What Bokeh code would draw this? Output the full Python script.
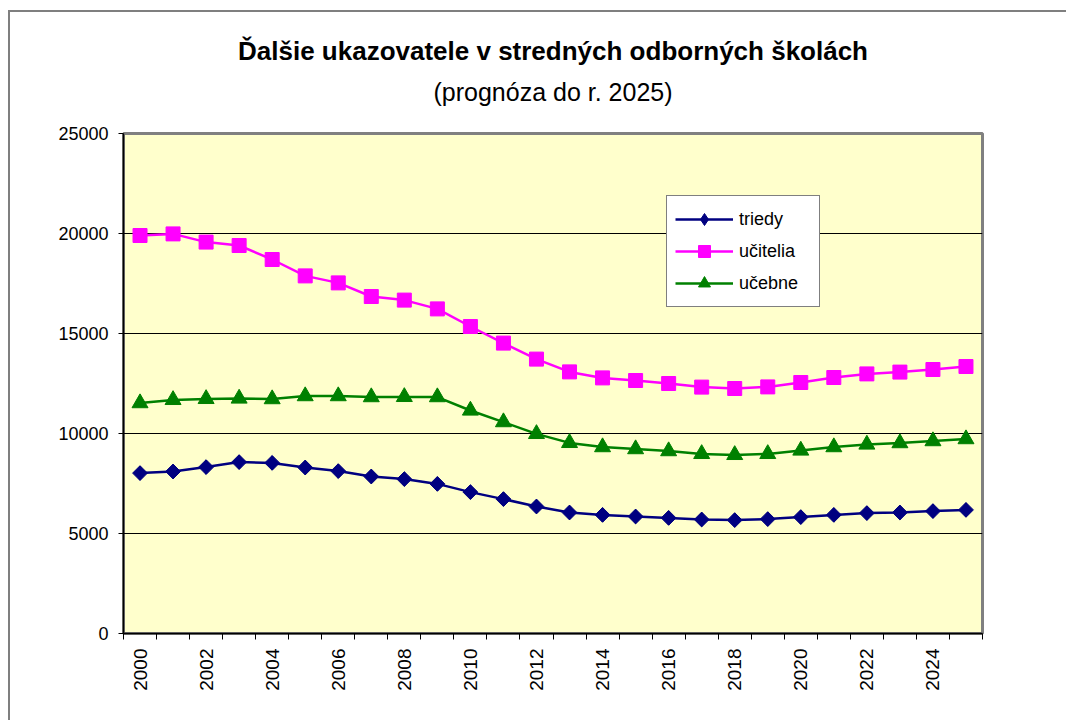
import math
from bokeh.plotting import figure
from bokeh.models import (Range1d, FixedTicker, Legend, LegendItem, Title,
                          ColumnDataSource)
from bokeh.embed import file_html
from bokeh.resources import INLINE

years = list(range(2000, 2026))
triedy = [8020, 8100, 8320, 8570, 8530, 8300, 8120, 7850, 7720, 7480, 7070, 6720, 6350,
          6050, 5930, 5850, 5780, 5700, 5670, 5720, 5820, 5930, 6020, 6050, 6120, 6180]
ucitelia = [19900, 19980, 19570, 19400, 18700, 17880, 17530, 16850, 16670, 16230, 15350,
            14520, 13720, 13080, 12780, 12650, 12500, 12320, 12250, 12330, 12550, 12800,
            12980, 13070, 13200, 13350]
ucebne = [11520, 11680, 11730, 11750, 11720, 11870, 11870, 11820, 11830, 11820, 11150,
          10570, 9980, 9530, 9320, 9220, 9120, 8980, 8930, 8980, 9150, 9320, 9450, 9520,
          9620, 9720]
series_names = ["triedy", "učitelia", "učebne"]
x_tick_labels = [str(y) for y in range(2000, 2026, 2)]
y_ticks = [0, 5000, 10000, 15000, 20000, 25000]
title_text = "Ďalšie ukazovatele v stredných odborných školách"
subtitle_text = "(prognóza do r. 2025)"

FONT = "Liberation Sans"

p = figure(width=1066, height=720, output_backend="svg", toolbar_location=None,
           x_range=Range1d(1999.5, 2025.5), y_range=Range1d(0, 25000),
           min_border_left=123, min_border_top=133, min_border_right=84,
           min_border_bottom=87)
p.background_fill_color = "#FFFFCC"
p.border_fill_alpha = 0
p.styles = {
    "background": ("linear-gradient(#7f7f7f, #7f7f7f) 8px 10px / 2px 100% no-repeat, "
                   "linear-gradient(#7f7f7f, #7f7f7f) 8px 10px / 100% 2px no-repeat, "
                   "white"),
}
p.outline_line_color = "#808080"
p.outline_line_width = 3

# titles (stacked outward from the frame)
p.add_layout(Title(text=" ", text_font_size="10px"), "above")
p.add_layout(Title(text=subtitle_text, align="center", text_font=FONT,
                   text_font_size="25px", text_font_style="normal",
                   text_color="black"), "above")
p.add_layout(Title(text=title_text, align="center", text_font=FONT,
                   text_font_size="26px", text_font_style="bold",
                   text_color="black"), "above")

# grid
p.xgrid.grid_line_color = None
p.ygrid.grid_line_color = "black"
p.ygrid.grid_line_width = 1
p.ygrid.ticker = FixedTicker(ticks=y_ticks)

# y axis
p.yaxis.ticker = FixedTicker(ticks=y_ticks)
p.yaxis.axis_line_color = "black"
p.yaxis.axis_line_width = 1.5
p.yaxis.major_tick_in = 0
p.yaxis.major_tick_out = 5
p.yaxis.major_tick_line_color = "black"
p.yaxis.minor_tick_line_color = None
p.yaxis.major_label_standoff = 10
p.yaxis.major_label_text_font = FONT
p.yaxis.major_label_text_font_size = "18px"
p.yaxis.major_label_text_color = "black"

# x axis
label_ticks = [int(t) for t in x_tick_labels]
p.xaxis.ticker = FixedTicker(ticks=label_ticks,
                             minor_ticks=[y - 0.5 for y in years] + [years[-1] + 0.5])
p.xaxis.major_label_overrides = {int(t): t for t in x_tick_labels}
p.xaxis.axis_line_color = "black"
p.xaxis.axis_line_width = 1.5
p.xaxis.major_tick_line_color = None
p.xaxis.major_tick_in = 0
p.xaxis.major_tick_out = 0
p.xaxis.minor_tick_line_color = "black"
p.xaxis.minor_tick_in = 0
p.xaxis.minor_tick_out = 6
p.xaxis.major_label_orientation = math.pi / 2
p.xaxis.major_label_standoff = 9
p.xaxis.major_label_text_font = FONT
p.xaxis.major_label_text_font_size = "19px"
p.xaxis.major_label_text_color = "black"

src = ColumnDataSource(dict(x=years, t=triedy, u=ucitelia, e=ucebne))

l1 = p.line("x", "t", source=src, line_color="#000080", line_width=2.5)
# diamond used for the legend (hidden under the rotated squares in the plot)
m1_leg = p.scatter("x", "t", source=src, marker="diamond", size=14,
                   fill_color="#000080", line_color="#000080")
m1 = p.scatter("x", "t", source=src, marker="square", angle=math.pi / 4, size=10.5,
               fill_color="#000080", line_color="#000080")
l2 = p.line("x", "u", source=src, line_color="#FF00FF", line_width=2.5)
m2 = p.scatter("x", "u", source=src, marker="square", size=14,
               fill_color="#FF00FF", line_color="#FF00FF")
l3 = p.line("x", "e", source=src, line_color="#008000", line_width=2.5)
m3 = p.scatter("x", "e", source=src, marker="triangle", size=16,
               fill_color="#008000", line_color="#008000")

legend = Legend(items=[LegendItem(label=series_names[0], renderers=[l1, m1_leg]),
                       LegendItem(label=series_names[1], renderers=[l2, m2]),
                       LegendItem(label=series_names[2], renderers=[l3, m3])],
                location=(543, 326), orientation="vertical")
legend.border_line_color = "black"
legend.border_line_width = 1
legend.background_fill_color = "white"
legend.background_fill_alpha = 1
legend.padding = 8
legend.spacing = 2
legend.margin = 0
legend.glyph_width = 58
legend.glyph_height = 30
legend.label_height = 30
legend.label_width = 72
legend.label_standoff = 6
legend.label_text_font = FONT
legend.label_text_font_size = "18px"
legend.label_text_color = "black"
p.add_layout(legend, "center")

open("out.html", "w").write(file_html(p, INLINE))
